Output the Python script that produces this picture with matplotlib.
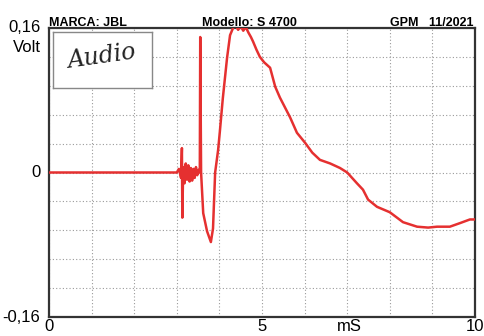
import matplotlib.pyplot as plt

# impulse response, time in ms, amplitude in volt
t_ms = [0, 3.00, 3.05, 3.10, 3.12, 3.13, 3.15, 3.18, 3.21, 3.24,
        3.27, 3.30, 3.33, 3.36, 3.39, 3.42, 3.45, 3.48, 3.51, 3.54,
        3.55, 3.57, 3.62, 3.71, 3.80, 3.85, 3.90, 3.97, 4.01, 4.08,
        4.18, 4.25, 4.32, 4.38, 4.44, 4.50, 4.56, 4.62, 4.68, 4.74,
        4.79, 4.87, 4.95, 5.05, 5.12, 5.19, 5.31, 5.42, 5.54, 5.66,
        5.82, 6.01, 6.18, 6.36, 6.60, 6.83, 7.00, 7.23, 7.37, 7.49,
        7.70, 8.00, 8.31, 8.64, 8.90, 9.11, 9.41, 9.65, 9.88, 10.0]
volt = [0, 0, 0.004, -0.006, 0.027, -0.050, 0.006, -0.012, 0.010, -0.008,
        0.008, -0.010, 0.005, -0.009, 0.004, -0.006, 0.006, -0.003, 0.003, 0.0,
        0.150, 0.0, -0.045, -0.065, -0.077, -0.062, 0.0, 0.025, 0.045, 0.082,
        0.127, 0.152, 0.160, 0.163, 0.158, 0.162, 0.157, 0.161, 0.155, 0.150,
        0.145, 0.136, 0.128, 0.122, 0.119, 0.116, 0.095, 0.083, 0.072, 0.061,
        0.044, 0.033, 0.022, 0.014, 0.010, 0.005, 0.0, -0.012, -0.019, -0.030,
        -0.038, -0.044, -0.055, -0.060, -0.061, -0.060, -0.060, -0.056, -0.052, -0.052]

x_labels = ['0', '5', '10']
x_label_pos = [0, 5, 10]
y_labels = ['0,16', '0', '-0,16']
y_label_pos = [0.16, 0, -0.16]
header = ['MARCA: JBL', 'Modello: S 4700', 'GPM   11/2021']

plt.rcParams['font.family'] = ['Liberation Sans', 'DejaVu Sans']

fig = plt.figure(figsize=(4.84, 3.36), dpi=100)
fig.patch.set_facecolor('white')
ax = fig.add_axes([49 / 484, 1 - 317 / 336, 426 / 484, 289 / 336])

ax.set_xlim(0, 10)
ax.set_ylim(-0.16, 0.16)
ax.set_xticks(range(0, 11))
ax.set_yticks([-0.16 + 0.032 * i for i in range(11)])
ax.grid(True, linestyle=(0, (1, 2)), color='#9a9a9a', linewidth=0.8)
ax.tick_params(length=0, labelbottom=False, labelleft=False)
for s in ax.spines.values():
    s.set_linewidth(1.6)
    s.set_color('#333333')

ax.plot(t_ms, volt, color='#e53030', linewidth=1.8, zorder=3)

# axis labels as in the magazine layout
for lab, pos in zip(x_labels, x_label_pos):
    ax.text(pos, -0.162, lab, ha='center', va='top', fontsize=12,
            transform=ax.transData, clip_on=False)
ax.text(7.05, -0.162, 'mS', ha='center', va='top', fontsize=12, clip_on=False)
for lab, pos in zip(y_labels, y_label_pos):
    ax.text(-0.2, pos, lab, ha='right', va='center', fontsize=12, clip_on=False)
ax.text(-0.2, 0.138, 'Volt', ha='right', va='center', fontsize=12, clip_on=False)

# header line
fig.text(49 / 484, 1 - 23 / 336, header[0], fontsize=9, fontweight='bold', va='center', ha='left')
fig.text(249 / 484, 1 - 23 / 336, header[1], fontsize=9, fontweight='bold', va='center', ha='center')
fig.text(473 / 484, 1 - 23 / 336, header[2], fontsize=9, fontweight='bold', va='center', ha='right')

# logo box
logo = fig.add_axes([53 / 484, 1 - 88 / 336, 99 / 484, 56 / 336])
logo.set_xticks([])
logo.set_yticks([])
logo.set_facecolor('white')
for s in logo.spines.values():
    s.set_color('#888888')
    s.set_linewidth(1.0)
logo.text(0.5, 0.55, 'Audio', ha='center', va='center', fontsize=17,
          fontstyle='italic', fontfamily='DejaVu Serif', color='#222222', rotation=8)

fig.savefig('out.png', dpi=100)
